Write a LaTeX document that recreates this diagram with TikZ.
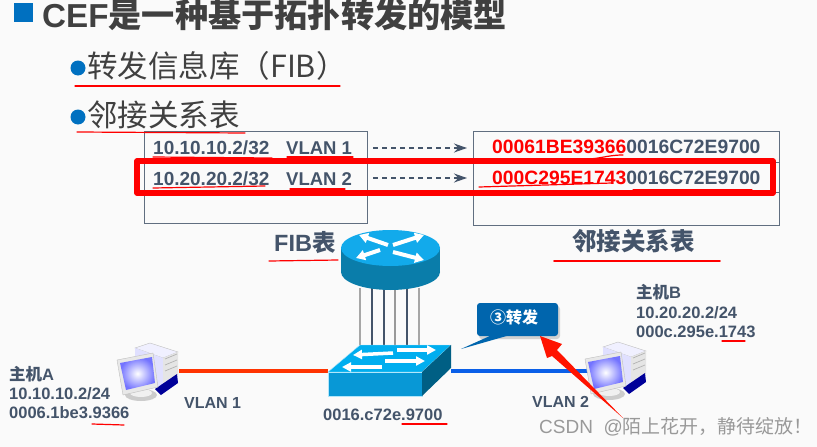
\documentclass[tikz,border=0pt]{standalone}
\usepackage{fontspec}
\setmainfont{Liberation Sans}
\newfontfamily\cjk{Noto Sans CJK SC}
\usetikzlibrary{arrows.meta}
\definecolor{slate}{HTML}{44546A}
\definecolor{darktext}{HTML}{404040}
\definecolor{bulletblue}{HTML}{0070C0}
\tikzset{
  txt/.style={anchor=base west,inner sep=0pt,text=slate,font=\bfseries\fontsize{19}{19}\selectfont},
  hosttxt/.style={txt,font=\bfseries\fontsize{16.5}{16.5}\selectfont},
  rowbox/.style={draw=slate!85,line width=1pt,minimum height=30.5pt,inner sep=0pt},
  inkline/.style={red,line width=1.2pt,line cap=round},
  hostpc/.pic={
    \fill[draw=gray!50,fill=blue!6] (18,5) -- (33,0) -- (61,9) -- (46,15) -- cycle;
    \fill[fill=blue!12!white] (18,5) -- (46,15) -- (46,45) -- (18,32) -- cycle;
    \fill[fill=gray!20] (46,15) -- (61,9) -- (61,32) -- (46,44) -- cycle;
    \foreach \y in {15,21,27}{
    \draw[gray!60,line width=0.7pt] (48,\y+1) -- (60,\y-4);
    }
    \fill[fill=blue!60!black] (38,46) -- (60,31) -- (61,40) -- (44,52) -- cycle;
    \fill[gray!40] (24,52) ellipse [x radius=16,y radius=6];
    \fill[gray!12] (24,50) ellipse [x radius=11,y radius=4];
    \fill[gray!18,draw=gray!50] (0,17) -- (36,10) -- (41,44) -- (6,52) -- cycle;
    \shade[inner color=white,outer color=blue!55!white] (3,20) -- (35,14) -- (38,40) -- (9,47) -- cycle;
  }
}
\begin{document}
\begin{tikzpicture}[x=1pt,y=-1pt]
\useasboundingbox (0,0) rectangle (817,447);
\fill[white!98!black] (0,0) rectangle (817,447);

% heading and bullets
\fill[bulletblue] (14,3) rectangle (33,22);
\node (title) [txt,text=darktext,font=\bfseries\fontsize{33.2}{33.2}\selectfont] at (42,27.8) {CEF{\cjk 是一种基于拓扑转发的模型}};
\fill[bulletblue] (78,68) circle (7.5);
\fill[bulletblue] (78,117) circle (7.5);
\node (itemfib) [txt,text=darktext,font=\fontsize{30.5}{30.5}\selectfont\cjk\mdseries] at (87,77) {转发信息库（FIB）};
\node (itemadj) [txt,text=darktext,font=\fontsize{30.5}{30.5}\selectfont\cjk\mdseries] at (87,126) {邻接关系表};

% tables
\draw[rowbox] (144,131) rectangle (367,223);
\draw[rowbox] (473,131) rectangle (779,225);
\node (fibrowa) [coordinate] at (367,148) {};
\node (fibrowb) [coordinate] at (367,178) {};
\node (adjrowa) [coordinate] at (473,148) {};
\node (adjrowb) [coordinate] at (473,178) {};
\draw[slate!85,line width=1pt] (144,162) -- (367,162) (144,192) -- (367,192);
\draw[slate!85,line width=1pt] (473,162) -- (779,162) (473,192) -- (779,192);
\foreach \a/\b in {fibrowa/adjrowa,fibrowb/adjrowb}{
\draw [slate,dash pattern=on 5pt off 4pt,line width=1.1pt,shorten <=6pt,shorten >=6pt,-{Stealth[length=13pt,width=9pt]}] (\a) -- (\b);
}
\node (fibipa) [txt] at (153,154) {10.10.10.2/32};
\node (fibipb) [txt] at (153,185) {10.20.20.2/32};
\node (fibvlana) [txt,font=\bfseries\fontsize{18.5}{18.5}\selectfont] at (286,154) {VLAN 1};
\node (fibvlanb) [txt,font=\bfseries\fontsize{18.5}{18.5}\selectfont] at (286,185) {VLAN 2};
\node (adjmaca) [txt,font=\bfseries\fontsize{19.3}{19.3}\selectfont] at (492,153) {\textcolor{red}{00061BE39366}0016C72E9700};
\node (adjmacb) [txt,font=\bfseries\fontsize{19.3}{19.3}\selectfont] at (492,184) {\textcolor{red}{000C295E1743}0016C72E9700};
\node (fiblabel) [txt,font=\bfseries\fontsize{23.5}{23.5}\selectfont] at (274,251) {FIB{\cjk 表}};
\node (adjlabel) [txt,font=\bfseries\fontsize{24.5}{24.5}\selectfont\cjk] at (572,250) {邻接关系表};
\draw[red,line width=5.5pt,line join=round] (137,161) rectangle (773,193);

% links of the network
\coordinate (hostaport) at (179,371);
\coordinate (hostbport) at (590,371);
\coordinate (switchleft) at (328,371);
\coordinate (switchright) at (451,371);
\coordinate (routerbase) at (390,288);
\coordinate (switchtop) at (390,350);
\draw[line width=4pt,color={rgb,255:red,255;green,51;blue,0}] (hostaport) -- (switchleft);
\draw[line width=4pt,color={rgb,255:red,10;green,95;blue,232}] (switchright) -- (hostbport);
\foreach \x/\c in {360/gray!70,372/slate,384/slate,395/gray!80,407/slate,419/gray!70}{
\draw [\c,line width=1.3pt] (\x,0 |- routerbase) -- (\x,0 |- switchtop);
}

% router
\fill[fill={rgb,255:red,10;green,125;blue,170}] (390.5,272) ellipse [x radius=49.5,y radius=18];
\fill[fill={rgb,255:red,10;green,125;blue,170}] (341,248) rectangle (440,272);
\node (router) [coordinate] at (390.5,248) {};
\fill[fill={rgb,255:red,18;green,170;blue,235}] (router) ellipse [x radius=49.5,y radius=18];
\foreach \xa/\ya/\xb/\yb in {388/245/359/235, 393/245/424/235, 380/250/356/258, 393/252/424/260}{
\draw [white,line width=4pt,-{Triangle[length=9pt,width=10pt]}] (\xa,\ya) -- (\xb,\yb);
}

% switch
\fill[fill={rgb,255:red,0;green,174;blue,239},draw=white!70!cyan] (328,372) -- (360,345) -- (451,345) -- (422,372) -- cycle;
\fill[fill={rgb,255:red,8;green,152;blue,214},draw=white!70!cyan] (328,372) rectangle (422,396);
\fill[fill={rgb,255:red,0;green,95;blue,132}] (422,372) -- (451,345) -- (451,368) -- (422,396) -- cycle;
\foreach \xa/\ya/\xb/\yb in {393/353/353/355, 397/350/436/350, 382/367/342/367, 385/361/425/361}{
\draw [white,line width=3.5pt,-{Triangle[length=9pt,width=9pt]}] (\xa,\ya) -- (\xb,\yb);
}
\node (switchmac) [hosttxt] at (323,420) {0016.c72e.9700};

% hosts
\pic at (117,343) {hostpc};
\pic at (585,342) {hostpc};
\node (hostaname) [hosttxt] at (9,380) {{\cjk 主机}A};
\node (hostaip) [hosttxt] at (9,399) {10.10.10.2/24};
\node (hostamac) [hosttxt] at (9,418) {0006.1be3.9366};
\node (vlana) [hosttxt,font=\bfseries\fontsize{16}{16}\selectfont] at (184,408) {VLAN 1};
\node (hostbname) [hosttxt] at (636,298) {{\cjk 主机}B};
\node (hostbip) [hosttxt] at (636,318) {10.20.20.2/24};
\node (hostbmac) [hosttxt] at (636,337) {000c.295e.1743};
\node (vlanb) [hosttxt,font=\bfseries\fontsize{16}{16}\selectfont] at (532,407) {VLAN 2};

% callout
\fill[gray!35,rounded corners=3pt] (479,306) rectangle (560,339);
\fill[bulletblue!90!black] (492,335) -- (510,335) -- (461,349) -- cycle;
\fill[bulletblue!90!black,rounded corners=3pt] (477,303) rectangle (558,336);
\node (callout) [txt,text=white,font=\bfseries\fontsize{16}{16}\selectfont\cjk] at (490,323) {③转发};

% red marker arrow and pen strokes
\fill[red!85!orange] (540,336) -- (562,344) -- (557,350) -- (623,418) -- (552,356) -- (547,358) -- cycle;
\foreach \xa/\ya/\xb/\yb in {75/86/340/86, 77/132/245/133, 153/157/272/158, 287/157/353/157, 153/188/265/186, 290/189/345/189, 479/187/612/183, 633/190/752/190, 269/261/338/260, 402/424/447/424, 92/424/124/425, 722/341/745/341}{
\draw [inkline] (\xa,\ya) -- (\xb,\yb);
}
\draw [inkline] (577,159) .. controls (600,160) and (605,155) .. (623,155);
\draw [inkline,line width=1.6pt] (554,261) -- (720,261);

% watermark
\node (watermark) [txt,text=gray!80,font=\mdseries\fontsize{19}{19}\selectfont] at (539,433) {CSDN\ \ @{\cjk 陌上花开，静待绽放！}};
\end{tikzpicture}
\end{document}
